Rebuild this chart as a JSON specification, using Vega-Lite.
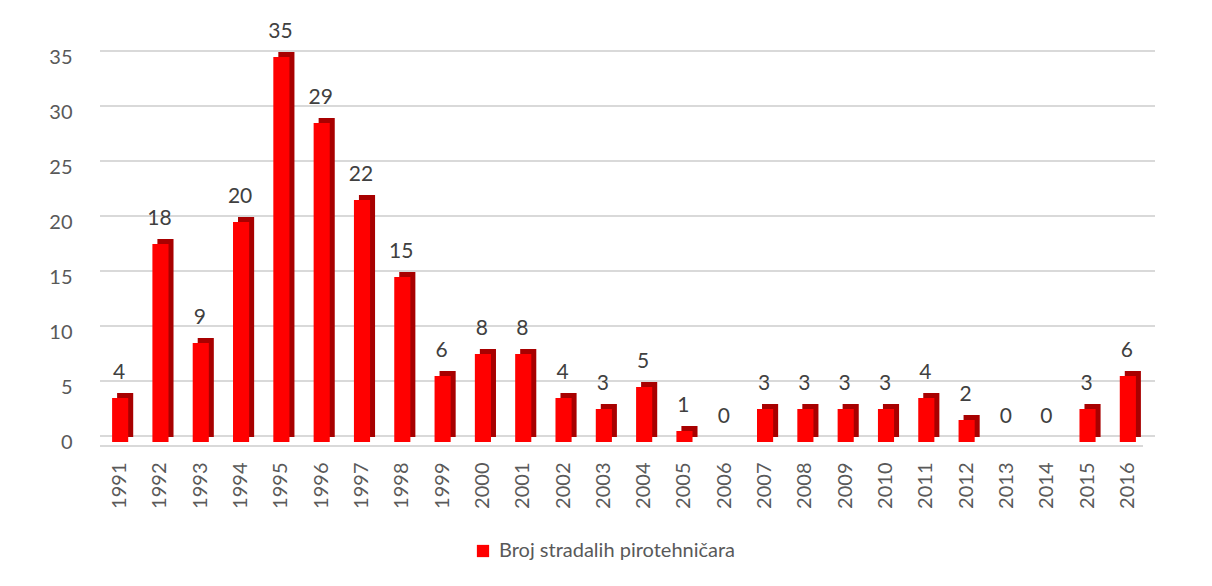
{
  "$schema": "https://vega.github.io/schema/vega-lite/v6.json",
  "autosize": "none",
  "width": 1048,
  "height": 385,
  "padding": {"left": 100, "top": 57, "right": 64, "bottom": 144},
  "background": "white",
  "config": {
    "view": {"stroke": null},
    "font": "Lato",
    "axis": {"labelFont": "Lato", "labelFontSize": 20, "labelColor": "#595959", "domain": false, "ticks": false, "grid": false, "title": null}
  },
  "datasets": {
    "main": [
      {"year": "1991", "value": 4, "series": "Broj stradalih pirotehničara"},
      {"year": "1992", "value": 18, "series": "Broj stradalih pirotehničara"},
      {"year": "1993", "value": 9, "series": "Broj stradalih pirotehničara"},
      {"year": "1994", "value": 20, "series": "Broj stradalih pirotehničara"},
      {"year": "1995", "value": 35, "series": "Broj stradalih pirotehničara"},
      {"year": "1996", "value": 29, "series": "Broj stradalih pirotehničara"},
      {"year": "1997", "value": 22, "series": "Broj stradalih pirotehničara"},
      {"year": "1998", "value": 15, "series": "Broj stradalih pirotehničara"},
      {"year": "1999", "value": 6, "series": "Broj stradalih pirotehničara"},
      {"year": "2000", "value": 8, "series": "Broj stradalih pirotehničara"},
      {"year": "2001", "value": 8, "series": "Broj stradalih pirotehničara"},
      {"year": "2002", "value": 4, "series": "Broj stradalih pirotehničara"},
      {"year": "2003", "value": 3, "series": "Broj stradalih pirotehničara"},
      {"year": "2004", "value": 5, "series": "Broj stradalih pirotehničara"},
      {"year": "2005", "value": 1, "series": "Broj stradalih pirotehničara"},
      {"year": "2006", "value": 0, "series": "Broj stradalih pirotehničara"},
      {"year": "2007", "value": 3, "series": "Broj stradalih pirotehničara"},
      {"year": "2008", "value": 3, "series": "Broj stradalih pirotehničara"},
      {"year": "2009", "value": 3, "series": "Broj stradalih pirotehničara"},
      {"year": "2010", "value": 3, "series": "Broj stradalih pirotehničara"},
      {"year": "2011", "value": 4, "series": "Broj stradalih pirotehničara"},
      {"year": "2012", "value": 2, "series": "Broj stradalih pirotehničara"},
      {"year": "2013", "value": 0, "series": "Broj stradalih pirotehničara"},
      {"year": "2014", "value": 0, "series": "Broj stradalih pirotehničara"},
      {"year": "2015", "value": 3, "series": "Broj stradalih pirotehničara"},
      {"year": "2016", "value": 6, "series": "Broj stradalih pirotehničara"}
    ],
    "grid": [{"g": 0}, {"g": 5}, {"g": 10}, {"g": 15}, {"g": 20}, {"g": 25}, {"g": 30}, {"g": 35}]
  },
  "layer": [
    {
      "data": {"name": "grid"},
      "mark": {"type": "rule", "color": "#d9d9d9", "strokeWidth": 2, "xOffset": 7, "yOffset": -6},
      "encoding": {"y": {"field": "g", "type": "quantitative", "scale": {"domain": [0, 35], "nice": false}}}
    },
    {
      "data": {"name": "grid"},
      "transform": [{"filter": "datum.g == 0"}],
      "mark": {"type": "rule", "color": "#d9d9d9", "strokeWidth": 2, "xOffset": -5, "yOffset": 4},
      "encoding": {"y": {"field": "g", "type": "quantitative"}}
    },
    {
      "data": {"name": "main"},
      "mark": {"type": "bar", "color": "#a80000", "xOffset": 5, "yOffset": -5},
      "encoding": {
        "x": {"field": "year", "type": "nominal", "sort": null, "scale": {"paddingInner": 0.6, "paddingOuter": 0.3},
              "axis": {"labelAngle": -90, "labelPadding": 20}},
        "y": {"field": "value", "type": "quantitative",
              "axis": {"values": [0, 5, 10, 15, 20, 25, 30, 35], "labelPadding": 28}}
      }
    },
    {
      "data": {"name": "main"},
      "mark": {"type": "bar"},
      "encoding": {
        "x": {"field": "year", "type": "nominal", "sort": null},
        "y": {"field": "value", "type": "quantitative"},
        "color": {"field": "series", "type": "nominal", "scale": {"range": ["#ff0000"]},
                  "legend": {"title": null, "orient": "none", "legendX": 373, "legendY": 484, "symbolType": "square", "symbolSize": 150, "symbolStrokeWidth": 0, "symbolOpacity": 1, "labelFontSize": 20, "labelColor": "#595959", "labelFont": "Lato", "labelOffset": 6, "labelLimit": 0}}
      }
    },
    {
      "data": {"name": "main"},
      "mark": {"type": "text", "fontSize": 21, "color": "#404040", "baseline": "middle", "dy": -25, "dx": -1},
      "encoding": {
        "x": {"field": "year", "type": "nominal", "sort": null},
        "y": {"field": "value", "type": "quantitative"},
        "text": {"field": "value", "type": "quantitative"}
      }
    }
  ]
}
